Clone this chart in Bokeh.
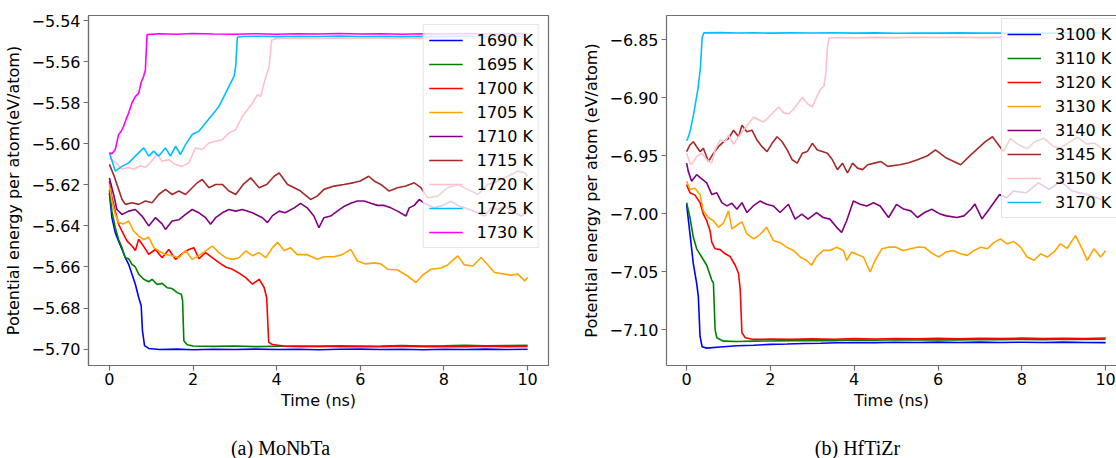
from bokeh.plotting import figure
from bokeh.models import (Legend, LegendItem, Range1d, FixedTicker,
                          CustomJSTickFormatter, LinearAxis)
from bokeh.core.properties import value
from bokeh.layouts import row, column
from bokeh.embed import file_html
from bokeh.resources import INLINE

FONT = "DejaVu Sans"

# ---------------- data: MoNbTa (time ns, energy eV/atom) ----------------
mo_labels = ["1690 K", "1695 K", "1700 K", "1705 K", "1710 K", "1715 K", "1720 K", "1725 K", "1730 K"]
mo_colors = ["#0000ff", "#008000", "#ff0000", "#ffa500", "#800080", "#a52a2a", "#ffc0cb", "#00bfff", "#ff00ff"]

mo_1690 = [(0, -5.6239), (0.06, -5.636), (0.14, -5.6433), (0.22, -5.6474), (0.3, -5.6514), (0.38, -5.6555),
           (0.46, -5.6587), (0.54, -5.6635), (0.62, -5.6684), (0.7, -5.6749), (0.76, -5.6789), (0.79, -5.6910),
           (0.84, -5.6983), (0.94, -5.6997), (1.2, -5.7002), (1.6, -5.7000), (2.0, -5.7003), (2.5, -5.7001),
           (3.0, -5.7002), (3.5, -5.7000), (4.0, -5.7002), (4.5, -5.7001), (5.0, -5.7003), (5.5, -5.7001),
           (6.0, -5.7000), (6.5, -5.7002), (7.0, -5.7001), (7.5, -5.7003), (8.0, -5.7001), (8.5, -5.7002),
           (9.0, -5.7000), (9.5, -5.7002), (10.0, -5.7001)]
mo_1695 = [(0, -5.6223), (0.06, -5.6328), (0.14, -5.6409), (0.22, -5.6466), (0.3, -5.6506), (0.38, -5.6555),
           (0.46, -5.6560), (0.54, -5.6587), (0.62, -5.6600), (0.7, -5.6635), (0.82, -5.6660), (0.94, -5.6672),
           (1.02, -5.6660), (1.14, -5.6685), (1.26, -5.6680), (1.38, -5.6701), (1.5, -5.6705), (1.62, -5.6725),
           (1.72, -5.6733), (1.75, -5.6765), (1.78, -5.6959), (1.86, -5.6979), (2.0, -5.6985), (2.5, -5.6987),
           (3.0, -5.6985), (3.5, -5.6988), (4.0, -5.6986), (4.5, -5.6985), (5.0, -5.6987), (5.5, -5.6984),
           (6.0, -5.6986), (6.5, -5.6985), (7.0, -5.6983), (7.5, -5.6985), (8.0, -5.6984), (8.5, -5.6982),
           (9.0, -5.6984), (9.5, -5.6983), (10.0, -5.6982)]
mo_1700 = [(0, -5.6182), (0.06, -5.6263), (0.14, -5.6328), (0.22, -5.6392), (0.3, -5.6425), (0.42, -5.6473),
           (0.54, -5.6498), (0.62, -5.6520), (0.7, -5.6465), (0.82, -5.6500), (0.94, -5.6538), (1.1, -5.6515),
           (1.26, -5.6555), (1.42, -5.6515), (1.58, -5.6563), (1.74, -5.6535), (1.9, -5.6515), (2.02, -5.6506),
           (2.14, -5.6560), (2.3, -5.6530), (2.46, -5.6555), (2.62, -5.6579), (2.78, -5.6600), (2.94, -5.6611),
           (3.1, -5.6630), (3.26, -5.6652), (3.42, -5.6684), (3.58, -5.6660), (3.7, -5.6700), (3.76, -5.6749),
           (3.81, -5.6967), (3.9, -5.6978), (4.2, -5.6986), (4.6, -5.6988), (5.0, -5.6986), (5.5, -5.6988),
           (6.0, -5.6987), (6.5, -5.6989), (7.0, -5.6986), (7.5, -5.6988), (8.0, -5.6987), (8.5, -5.6989),
           (9.0, -5.6986), (9.5, -5.6988), (10.0, -5.6987)]
mo_1705 = [(0, -5.6198), (0.06, -5.6279), (0.14, -5.6344), (0.22, -5.6384), (0.34, -5.6390), (0.46, -5.6376),
           (0.58, -5.6425), (0.7, -5.6450), (0.82, -5.6466), (0.94, -5.6455), (1.06, -5.6506), (1.18, -5.6522),
           (1.34, -5.6539), (1.5, -5.6545), (1.66, -5.6555), (1.82, -5.6520), (1.98, -5.6563), (2.14, -5.6545),
           (2.3, -5.6522), (2.46, -5.6498), (2.62, -5.6530), (2.78, -5.6555), (2.94, -5.6563), (3.1, -5.6555),
           (3.26, -5.6522), (3.42, -5.6545), (3.58, -5.6530), (3.74, -5.6555), (3.9, -5.6506), (4.02, -5.6480),
           (4.18, -5.6520), (4.33, -5.6506), (4.49, -5.6540), (4.73, -5.6540), (4.97, -5.6562), (5.13, -5.6550),
           (5.37, -5.6550), (5.57, -5.6540), (5.77, -5.6514), (5.93, -5.6571), (6.13, -5.6585), (6.33, -5.6580),
           (6.49, -5.6585), (6.65, -5.6611), (6.89, -5.6615), (7.13, -5.6644), (7.33, -5.6676), (7.49, -5.6640),
           (7.69, -5.6611), (7.93, -5.6605), (8.09, -5.6590), (8.33, -5.6546), (8.49, -5.6590), (8.69, -5.6595),
           (8.89, -5.6554), (9.05, -5.6590), (9.21, -5.6627), (9.45, -5.6635), (9.61, -5.6640), (9.77, -5.6635),
           (9.93, -5.6668), (10.0, -5.6650)]
mo_1710 = [(0, -5.6166), (0.1, -5.6247), (0.18, -5.632), (0.3, -5.6344), (0.46, -5.6328), (0.62, -5.632),
           (0.78, -5.6352), (0.94, -5.640), (1.1, -5.636), (1.26, -5.639), (1.34, -5.6417), (1.5, -5.6376),
           (1.66, -5.637), (1.82, -5.6344), (1.98, -5.632), (2.14, -5.6336), (2.3, -5.636), (2.42, -5.6392),
           (2.54, -5.636), (2.7, -5.6336), (2.86, -5.632), (3.02, -5.6328), (3.18, -5.632), (3.42, -5.6336),
           (3.66, -5.636), (3.78, -5.6384), (3.9, -5.6350), (4.06, -5.6328), (4.2, -5.6336), (4.42, -5.6312),
           (4.57, -5.629), (4.73, -5.6312), (4.89, -5.6352), (5.01, -5.6409), (5.13, -5.636), (5.29, -5.6352),
           (5.45, -5.6328), (5.61, -5.6305), (5.77, -5.629), (5.93, -5.6279), (6.09, -5.6279), (6.25, -5.629),
           (6.41, -5.630), (6.57, -5.630), (6.73, -5.6312), (6.89, -5.6328), (7.09, -5.6352), (7.17, -5.6312),
           (7.29, -5.630), (7.41, -5.6271), (7.53, -5.629), (7.77, -5.6312), (7.97, -5.6300), (8.17, -5.628),
           (8.33, -5.6300), (8.49, -5.6312), (8.73, -5.6330), (8.97, -5.6352), (9.13, -5.6312), (9.29, -5.6320),
           (9.45, -5.6305), (9.65, -5.6330), (9.85, -5.6352), (10.0, -5.633)]
mo_1715 = [(0, -5.610), (0.1, -5.615), (0.22, -5.6222), (0.3, -5.627), (0.38, -5.6295), (0.54, -5.6287),
           (0.7, -5.6295), (0.86, -5.6279), (1.02, -5.6287), (1.18, -5.6247), (1.34, -5.6222), (1.5, -5.6247),
           (1.66, -5.623), (1.82, -5.6247), (1.98, -5.6214), (2.1, -5.6190), (2.22, -5.6174), (2.38, -5.6214),
           (2.54, -5.6198), (2.7, -5.6198), (2.86, -5.623), (3.02, -5.6247), (3.2, -5.6198), (3.38, -5.6166),
           (3.58, -5.6214), (3.76, -5.6198), (3.94, -5.6158), (4.06, -5.6142), (4.26, -5.6198), (4.42, -5.6214),
           (4.57, -5.623), (4.81, -5.6271), (4.97, -5.6255), (5.13, -5.6222), (5.37, -5.6206), (5.61, -5.6198),
           (5.85, -5.6189), (6.0, -5.6181), (6.2, -5.6158), (6.33, -5.6181), (6.49, -5.6198), (6.69, -5.623),
           (6.89, -5.6214), (7.09, -5.6206), (7.29, -5.619), (7.45, -5.6214), (7.61, -5.6263), (7.85, -5.6255),
           (8.09, -5.6214), (8.33, -5.6198), (8.57, -5.6222), (8.81, -5.6247), (9.05, -5.6198), (9.29, -5.6181),
           (9.53, -5.6158), (9.77, -5.6133), (9.93, -5.6141), (10.0, -5.6160)]
mo_1720 = [(0, -5.607), (0.14, -5.609), (0.3, -5.6124), (0.46, -5.6115), (0.58, -5.6124), (0.74, -5.6107),
           (0.86, -5.6115), (0.98, -5.6091), (1.14, -5.6052), (1.26, -5.6085), (1.42, -5.6077), (1.58, -5.6101),
           (1.74, -5.611), (1.9, -5.6093), (2.06, -5.602), (2.22, -5.6028), (2.38, -5.5996), (2.54, -5.5988),
           (2.7, -5.598), (2.86, -5.5947), (3.02, -5.5931), (3.18, -5.5866), (3.3, -5.5834), (3.42, -5.5802),
           (3.54, -5.5761), (3.62, -5.5769), (3.7, -5.5704), (3.82, -5.5623), (3.88, -5.5494), (4.0, -5.5487),
           (4.5, -5.5485), (5.0, -5.5487), (5.5, -5.5484), (6.0, -5.5486), (6.5, -5.5485), (7.0, -5.5487),
           (7.5, -5.5484), (8.0, -5.5486), (8.5, -5.5485), (9.0, -5.5484), (9.5, -5.5486), (10.0, -5.5485)]
mo_1725 = [(0, -5.6044), (0.14, -5.6133), (0.3, -5.611), (0.46, -5.6093), (0.62, -5.606), (0.82, -5.602),
           (0.94, -5.606), (1.06, -5.6036), (1.18, -5.606), (1.34, -5.602), (1.46, -5.606), (1.58, -5.6012),
           (1.7, -5.6052), (1.82, -5.6004), (1.98, -5.5955), (2.14, -5.5939), (2.3, -5.5899), (2.46, -5.5858),
           (2.62, -5.5818), (2.74, -5.5769), (2.86, -5.572), (2.98, -5.5672), (3.02, -5.5623), (3.06, -5.5481),
           (3.2, -5.5477), (3.6, -5.5476), (4.0, -5.5478), (4.5, -5.5476), (5.0, -5.5477), (5.5, -5.5475),
           (6.0, -5.5477), (6.5, -5.5476), (7.0, -5.5478), (7.5, -5.5476), (8.0, -5.5477), (8.5, -5.5475),
           (9.0, -5.5477), (9.5, -5.5476), (10.0, -5.5477)]
mo_1730 = [(0, -5.6044), (0.06, -5.6048), (0.14, -5.6028), (0.22, -5.5955), (0.28, -5.5940), (0.34, -5.5915),
           (0.4, -5.5880), (0.46, -5.585), (0.54, -5.580), (0.62, -5.5770), (0.7, -5.5753), (0.76, -5.5700),
           (0.82, -5.5670), (0.86, -5.5640), (0.9, -5.5468), (1.2, -5.5464), (1.6, -5.5466), (2.0, -5.5463),
           (2.5, -5.5465), (3.0, -5.5466), (3.5, -5.5464), (4.0, -5.5466), (4.5, -5.5464), (5.0, -5.5465),
           (5.5, -5.5463), (6.0, -5.5465), (6.5, -5.5464), (7.0, -5.5466), (7.5, -5.5464), (8.0, -5.5465),
           (8.5, -5.5463), (9.0, -5.5465), (9.5, -5.5464), (10.0, -5.5465)]
mo_series = [mo_1690, mo_1695, mo_1700, mo_1705, mo_1710, mo_1715, mo_1720, mo_1725, mo_1730]
mo_yticks = [-5.70, -5.68, -5.66, -5.64, -5.62, -5.60, -5.58, -5.56, -5.54]

# ---------------- data: HfTiZr ----------------
hf_labels = ["3100 K", "3110 K", "3120 K", "3130 K", "3140 K", "3145 K", "3150 K", "3170 K"]
hf_colors = ["#0000ff", "#008000", "#ff0000", "#ffa500", "#800080", "#a52a2a", "#ffc0cb", "#00bfff"]

hf_3100 = [(0, -6.992), (0.08, -7.0175), (0.16, -7.0431), (0.24, -7.0602), (0.28, -7.0716), (0.32, -7.1057),
           (0.37, -7.1148), (0.48, -7.116), (0.8, -7.115), (1.2, -7.114), (1.6, -7.1135), (2.0, -7.1128),
           (2.4, -7.1125), (2.8, -7.112), (3.2, -7.1118), (3.6, -7.1114), (4.0, -7.1112), (4.5, -7.1113),
           (5.0, -7.1110), (5.5, -7.1112), (6.0, -7.1108), (6.5, -7.1111), (7.0, -7.1108), (7.5, -7.1112),
           (8.0, -7.1109), (8.5, -7.1111), (9.0, -7.1108), (9.5, -7.1112), (10.0, -7.1113)]
hf_3110 = [(0, -6.9905), (0.08, -7.0033), (0.16, -7.0204), (0.24, -7.0303), (0.36, -7.0374), (0.48, -7.0445),
           (0.6, -7.0573), (0.64, -7.060), (0.68, -7.100), (0.72, -7.1071), (0.88, -7.110), (1.2, -7.1103),
           (1.6, -7.1100), (2.0, -7.1098), (2.5, -7.1095), (3.0, -7.1093), (3.5, -7.1095), (4.0, -7.1090),
           (4.5, -7.1092), (5.0, -7.1088), (5.5, -7.1090), (6.0, -7.1087), (6.5, -7.1089), (7.0, -7.1086),
           (7.5, -7.1088), (8.0, -7.1085), (8.5, -7.1087), (9.0, -7.1084), (9.5, -7.1086), (10.0, -7.1083)]
hf_3120 = [(0, -6.9749), (0.08, -6.982), (0.2, -6.984), (0.32, -6.9905), (0.4, -7.0004), (0.48, -7.006),
           (0.56, -7.0147), (0.6, -7.0246), (0.68, -7.0303), (0.8, -7.031), (0.92, -7.0346), (1.04, -7.037),
           (1.16, -7.0445), (1.24, -7.0516), (1.28, -7.0659), (1.32, -7.1028), (1.4, -7.1071), (1.6, -7.1085),
           (2.0, -7.1082), (2.5, -7.1085), (3.0, -7.1080), (3.5, -7.1083), (4.0, -7.1078), (4.5, -7.1081),
           (5.0, -7.1077), (5.5, -7.1080), (6.0, -7.1076), (6.5, -7.1079), (7.0, -7.1075), (7.5, -7.1078),
           (8.0, -7.1074), (8.5, -7.1077), (9.0, -7.1075), (9.5, -7.1077), (10.0, -7.1073)]
hf_3130 = [(0, -6.972), (0.08, -6.9791), (0.2, -6.978), (0.32, -6.9834), (0.4, -6.9976), (0.52, -7.0033),
           (0.64, -7.0061), (0.76, -7.0118), (0.88, -7.008), (1.0, -6.9976), (1.08, -7.0132), (1.2, -7.010),
           (1.32, -7.007), (1.44, -7.0175), (1.6, -7.0218), (1.75, -7.018), (1.91, -7.0118), (2.07, -7.0232),
           (2.23, -7.025), (2.39, -7.0289), (2.55, -7.0317), (2.71, -7.0374), (2.86, -7.0402), (2.98, -7.0445),
           (3.1, -7.0370), (3.26, -7.0317), (3.42, -7.0317), (3.58, -7.0289), (3.74, -7.0317), (3.82, -7.0402),
           (3.94, -7.033), (4.06, -7.035), (4.22, -7.0374), (4.38, -7.0503), (4.5, -7.0402), (4.66, -7.0303),
           (4.82, -7.0289), (5.0, -7.0289), (5.17, -7.0320), (5.34, -7.0303), (5.51, -7.0289), (5.68, -7.029),
           (5.85, -7.0340), (6.02, -7.0374), (6.19, -7.0330), (6.36, -7.0317), (6.54, -7.0346), (6.7, -7.0360),
           (6.86, -7.0317), (7.02, -7.0289), (7.18, -7.0303), (7.33, -7.0250), (7.49, -7.0218), (7.65, -7.0260),
           (7.81, -7.0240), (7.97, -7.0289), (8.13, -7.0374), (8.29, -7.0402), (8.45, -7.0346), (8.61, -7.0374),
           (8.77, -7.0330), (8.92, -7.026), (9.08, -7.0300), (9.28, -7.0189), (9.44, -7.0303), (9.56, -7.0403),
           (9.72, -7.0303), (9.88, -7.0374), (10.0, -7.0320)]
hf_3140 = [(0, -6.9564), (0.04, -6.9635), (0.12, -6.972), (0.24, -6.9663), (0.36, -6.9700), (0.48, -6.9734),
           (0.6, -6.9834), (0.72, -6.9820), (0.84, -6.9905), (0.96, -6.9933), (1.08, -6.9910), (1.2, -6.9962),
           (1.32, -6.9905), (1.44, -6.999), (1.6, -6.9930), (1.75, -6.9891), (1.91, -6.9919), (2.07, -6.9933),
           (2.23, -6.999), (2.43, -6.9919), (2.59, -7.0047), (2.75, -7.0004), (2.9, -7.0047), (3.1, -6.999),
           (3.26, -7.0033), (3.42, -7.0047), (3.58, -7.0118), (3.7, -7.0161), (3.82, -7.0061), (3.98, -6.9891),
           (4.14, -6.9919), (4.3, -6.9933), (4.46, -6.9905), (4.62, -6.9933), (4.82, -7.0033), (5.01, -6.9919),
           (5.18, -6.9960), (5.35, -6.9976), (5.51, -7.0033), (5.68, -6.9990), (5.85, -6.9962), (6.03, -7.0000),
           (6.2, -7.0019), (6.45, -7.0033), (6.62, -7.0019), (6.79, -6.9960), (6.88, -6.9917), (7.05, -7.0044),
           (7.22, -6.9962), (7.47, -6.9834), (7.64, -6.9862), (7.8, -6.9805), (8.1, -6.9820), (8.4, -6.9735),
           (8.65, -6.9790), (8.93, -6.972), (9.2, -6.9805), (9.56, -6.9834), (9.88, -6.9876), (10.0, -6.990)]
hf_3145 = [(0, -6.9464), (0.08, -6.9407), (0.16, -6.9379), (0.24, -6.9422), (0.32, -6.9464), (0.4, -6.9436),
           (0.52, -6.955), (0.64, -6.9479), (0.76, -6.9422), (0.88, -6.938), (1.0, -6.9351), (1.12, -6.928),
           (1.24, -6.9336), (1.32, -6.9237), (1.44, -6.9294), (1.56, -6.928), (1.68, -6.9365), (1.8, -6.9422),
           (1.92, -6.9464), (2.04, -6.9393), (2.16, -6.9336), (2.28, -6.9379), (2.4, -6.945), (2.52, -6.9535),
           (2.64, -6.9564), (2.76, -6.9479), (2.88, -6.9464), (3.0, -6.9393), (3.12, -6.9450), (3.24, -6.9464),
           (3.36, -6.9479), (3.48, -6.9535), (3.6, -6.962), (3.72, -6.9564), (3.84, -6.9649), (3.96, -6.9564),
           (4.08, -6.9607), (4.2, -6.962), (4.32, -6.9578), (4.48, -6.9564), (4.64, -6.955), (4.8, -6.9592),
           (5.09, -6.9578), (5.3, -6.9560), (5.51, -6.9535), (5.75, -6.9500), (5.94, -6.945), (6.2, -6.9520),
           (6.54, -6.9578), (6.79, -6.9490), (7.13, -6.9379), (7.3, -6.9336), (7.56, -6.9464), (7.73, -6.935),
           (7.9, -6.9400), (8.13, -6.9440), (8.3, -6.9380), (8.53, -6.9350), (8.75, -6.9420), (8.93, -6.9430),
           (9.15, -6.9380), (9.33, -6.9340), (9.55, -6.9400), (9.73, -6.9390), (9.88, -6.9430), (10.0, -6.945)]
hf_3150 = [(0, -6.9479), (0.08, -6.9564), (0.12, -6.9573), (0.24, -6.9507), (0.36, -6.9479), (0.48, -6.9535),
           (0.6, -6.9564), (0.68, -6.945), (0.8, -6.9365), (0.92, -6.9380), (1.0, -6.9322), (1.12, -6.94),
           (1.24, -6.9336), (1.36, -6.928), (1.48, -6.9223), (1.6, -6.9166), (1.72, -6.9190), (1.84, -6.9209),
           (1.96, -6.9166), (2.08, -6.9123), (2.2, -6.908), (2.32, -6.9130), (2.44, -6.9140), (2.56, -6.9095),
           (2.68, -6.9038), (2.76, -6.8995), (2.88, -6.9050), (3.0, -6.908), (3.08, -6.9010), (3.2, -6.8924),
           (3.28, -6.8896), (3.32, -6.8796), (3.36, -6.8568), (3.4, -6.8483), (3.6, -6.8480), (4.0, -6.8482),
           (4.5, -6.8479), (5.0, -6.8481), (5.5, -6.8478), (6.0, -6.8480), (6.5, -6.8478), (7.0, -6.8481),
           (7.5, -6.8479), (8.0, -6.8477), (8.5, -6.8479), (9.0, -6.8477), (9.5, -6.8479), (10.0, -6.8478)]
hf_3170 = [(0, -6.937), (0.03, -6.935), (0.08, -6.9294), (0.17, -6.9137), (0.27, -6.8924), (0.33, -6.8739),
           (0.37, -6.8483), (0.41, -6.8440), (0.8, -6.8438), (1.2, -6.8441), (1.6, -6.8439), (2.0, -6.8442),
           (2.5, -6.8440), (3.0, -6.8441), (3.5, -6.8439), (4.0, -6.8442), (4.5, -6.8440), (5.0, -6.8443),
           (5.5, -6.8441), (6.0, -6.8442), (6.5, -6.8440), (7.0, -6.8442), (7.5, -6.8441), (8.0, -6.8443),
           (8.5, -6.8441), (9.0, -6.8442), (9.5, -6.8440), (10.0, -6.8441)]
hf_series = [hf_3100, hf_3110, hf_3120, hf_3130, hf_3140, hf_3145, hf_3150, hf_3170]
hf_yticks = [-7.10, -7.05, -7.00, -6.95, -6.90, -6.85]

x_ticks = [0, 2, 4, 6, 8, 10]
captions = ["(a) MoNbTa", "(b) HfTiZr"]
AXIS_COLOR = "#6e6e6e"


def style_axes(p, yticks):
    p.xgrid.visible = False
    p.ygrid.visible = False
    p.xaxis.ticker = FixedTicker(ticks=x_ticks)
    p.yaxis.ticker = FixedTicker(ticks=yticks)
    p.yaxis.formatter = CustomJSTickFormatter(
        code="return (tick < 0 ? '\u2212' : '') + Math.abs(tick).toFixed(2);")
    for ax in (p.xaxis, p.yaxis):
        ax.axis_line_color = AXIS_COLOR
        ax.axis_line_width = 1.2
        ax.major_tick_line_color = AXIS_COLOR
        ax.major_tick_line_width = 1.2
        ax.major_tick_out = 5
        ax.major_tick_in = 0
        ax.minor_tick_out = 0
        ax.minor_tick_in = 0
        ax.major_label_text_font = FONT
        ax.major_label_text_font_size = "16px"
        ax.major_label_text_color = "black"
        ax.axis_label_text_font = FONT
        ax.axis_label_text_font_size = "16px"
        ax.axis_label_text_font_style = "normal"
        ax.axis_label_text_color = "black"
    p.xaxis.major_label_standoff = 2
    p.xaxis.axis_label_standoff = 3
    p.yaxis.major_label_standoff = 3
    p.yaxis.axis_label_standoff = 5
    p.xaxis.axis_label = "Time (ns)"


def add_lines(p, series, labels, colors):
    items = []
    for pts, lab, col in zip(series, labels, colors):
        ts = [a for a, b in pts]
        es = [b for a, b in pts]
        r = p.line(ts, es, line_color=col, line_width=1.6)
        items.append(LegendItem(label=lab, renderers=[r]))
    return items


def make_legend(items, location, margin):
    return Legend(items=items, location=location, margin=margin,
                  label_text_font=FONT, label_text_font_size="16px", label_text_color="black",
                  glyph_width=34, glyph_height=20, label_height=20, label_standoff=14,
                  spacing=4, padding=5, border_line_color="#cccccc", border_line_width=1,
                  background_fill_color="white", background_fill_alpha=0.8)


# ---------------- left panel ----------------
p1 = figure(width=558, height=418, x_range=Range1d(-0.5, 10.5), y_range=Range1d(-5.708, -5.5375),
            output_backend="svg", toolbar_location=None,
            min_border_left=88, min_border_right=10, min_border_top=15, min_border_bottom=53)
p1.outline_line_color = AXIS_COLOR
p1.outline_line_width = 1.2
style_axes(p1, mo_yticks)
p1.yaxis.axis_label = "Potential energy per atom(eV/atom)"
items1 = add_lines(p1, mo_series, mo_labels, mo_colors)
p1.add_layout(make_legend(items1, "top_right", 9))

# ---------------- right panel ----------------
p2 = figure(width=558, height=418, x_range=Range1d(-0.48, 10.26), y_range=Range1d(-7.131, -6.829),
            output_backend="svg", toolbar_location=None,
            min_border_left=108, min_border_right=0, min_border_top=13, min_border_bottom=53)
p2.outline_line_color = None
style_axes(p2, hf_yticks)
p2.yaxis.axis_label = "Potential energy per atom (eV/atom)"
top_axis = LinearAxis(ticker=FixedTicker(ticks=[]), axis_line_color=AXIS_COLOR, axis_line_width=1.2,
                      major_tick_out=0, major_tick_in=0, minor_tick_out=0, minor_tick_in=0,
                      major_label_text_font_size="0px")
p2.add_layout(top_axis, "above")
items2 = add_lines(p2, hf_series, hf_labels, hf_colors)
p2.add_layout(make_legend(items2, (335, 147), 0))

# ---------------- captions strip ----------------
pc = figure(width=1116, height=40, x_range=Range1d(0, 1116), y_range=Range1d(40, 0),
            output_backend="svg", toolbar_location=None, x_axis_location=None, y_axis_location=None,
            min_border=0, min_border_left=0, min_border_right=0, min_border_top=0, min_border_bottom=0)
pc.outline_line_color = None
pc.grid.visible = False
pc.text(x=[280, 857], y=[29, 29], text=captions, text_align="center", text_baseline="middle",
        text_font=value("Liberation Serif"), text_font_size=value("20px"), text_color="black")

layout = column(row(p1, p2), pc)
open("out.html", "w").write(file_html(layout, INLINE))
